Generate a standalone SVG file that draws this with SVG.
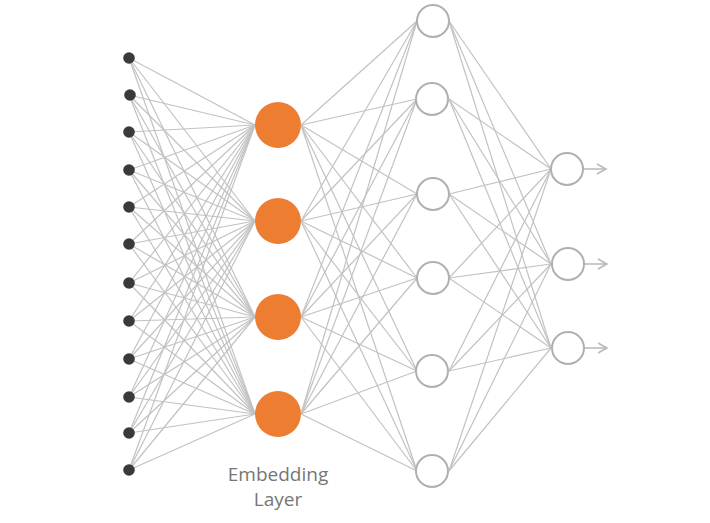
<svg xmlns="http://www.w3.org/2000/svg" width="710" height="523" viewBox="0 0 710 523">
<defs>
<style>
.c line{stroke:#c2c2c2;stroke-width:1.2;fill:none}
.in{fill:#3a3a3a}
.emb{fill:#ED7D31}
.hid{fill:#fff;stroke:#b0b0b0;stroke-width:2}
.arr{stroke:#b8b8b8;stroke-width:1.5;fill:none}
.lbl{font-family:"Open Sans","Liberation Sans",sans-serif;font-size:19px;fill:#767676;text-anchor:middle}
</style>
<marker id="ah" markerWidth="12" markerHeight="12" refX="10" refY="6" orient="auto" markerUnits="userSpaceOnUse">
<path d="M1,1 L10,6 L1,11" fill="none" stroke="#b8b8b8" stroke-width="1.5"/>
</marker>
</defs>
<rect width="710" height="523" fill="#fff"/>
<g id="connectors" class="c">
<line x1="129" y1="58" x2="255" y2="125"/><line x1="129" y1="58" x2="255" y2="221"/><line x1="129" y1="58" x2="255" y2="317"/><line x1="129" y1="58" x2="255" y2="414"/>
<line x1="129" y1="95" x2="255" y2="125"/><line x1="129" y1="95" x2="255" y2="221"/><line x1="129" y1="95" x2="255" y2="317"/><line x1="129" y1="95" x2="255" y2="414"/>
<line x1="129" y1="132" x2="255" y2="125"/><line x1="129" y1="132" x2="255" y2="221"/><line x1="129" y1="132" x2="255" y2="317"/><line x1="129" y1="132" x2="255" y2="414"/>
<line x1="129" y1="170" x2="255" y2="125"/><line x1="129" y1="170" x2="255" y2="221"/><line x1="129" y1="170" x2="255" y2="317"/><line x1="129" y1="170" x2="255" y2="414"/>
<line x1="129" y1="207" x2="255" y2="125"/><line x1="129" y1="207" x2="255" y2="221"/><line x1="129" y1="207" x2="255" y2="317"/><line x1="129" y1="207" x2="255" y2="414"/>
<line x1="129" y1="244" x2="255" y2="125"/><line x1="129" y1="244" x2="255" y2="221"/><line x1="129" y1="244" x2="255" y2="317"/><line x1="129" y1="244" x2="255" y2="414"/>
<line x1="129" y1="283" x2="255" y2="125"/><line x1="129" y1="283" x2="255" y2="221"/><line x1="129" y1="283" x2="255" y2="317"/><line x1="129" y1="283" x2="255" y2="414"/>
<line x1="129" y1="321" x2="255" y2="125"/><line x1="129" y1="321" x2="255" y2="221"/><line x1="129" y1="321" x2="255" y2="317"/><line x1="129" y1="321" x2="255" y2="414"/>
<line x1="129" y1="359" x2="255" y2="125"/><line x1="129" y1="359" x2="255" y2="221"/><line x1="129" y1="359" x2="255" y2="317"/><line x1="129" y1="359" x2="255" y2="414"/>
<line x1="129" y1="397" x2="255" y2="125"/><line x1="129" y1="397" x2="255" y2="221"/><line x1="129" y1="397" x2="255" y2="317"/><line x1="129" y1="397" x2="255" y2="414"/>
<line x1="129" y1="433" x2="255" y2="125"/><line x1="129" y1="433" x2="255" y2="221"/><line x1="129" y1="433" x2="255" y2="317"/><line x1="129" y1="433" x2="255" y2="414"/>
<line x1="129" y1="470" x2="255" y2="125"/><line x1="129" y1="470" x2="255" y2="221"/><line x1="129" y1="470" x2="255" y2="317"/><line x1="129" y1="470" x2="255" y2="414"/>
<line x1="301" y1="125" x2="417" y2="21"/><line x1="301" y1="125" x2="417" y2="99"/><line x1="301" y1="125" x2="417" y2="194"/><line x1="301" y1="125" x2="417" y2="278"/><line x1="301" y1="125" x2="417" y2="371"/><line x1="301" y1="125" x2="417" y2="471"/>
<line x1="301" y1="221" x2="417" y2="21"/><line x1="301" y1="221" x2="417" y2="99"/><line x1="301" y1="221" x2="417" y2="194"/><line x1="301" y1="221" x2="417" y2="278"/><line x1="301" y1="221" x2="417" y2="371"/><line x1="301" y1="221" x2="417" y2="471"/>
<line x1="301" y1="317" x2="417" y2="21"/><line x1="301" y1="317" x2="417" y2="99"/><line x1="301" y1="317" x2="417" y2="194"/><line x1="301" y1="317" x2="417" y2="278"/><line x1="301" y1="317" x2="417" y2="371"/><line x1="301" y1="317" x2="417" y2="471"/>
<line x1="301" y1="414" x2="417" y2="21"/><line x1="301" y1="414" x2="417" y2="99"/><line x1="301" y1="414" x2="417" y2="194"/><line x1="301" y1="414" x2="417" y2="278"/><line x1="301" y1="414" x2="417" y2="371"/><line x1="301" y1="414" x2="417" y2="471"/>
<line x1="449" y1="21" x2="551" y2="169"/><line x1="449" y1="21" x2="551" y2="264"/><line x1="449" y1="21" x2="551" y2="348"/>
<line x1="449" y1="99" x2="551" y2="169"/><line x1="449" y1="99" x2="551" y2="264"/><line x1="449" y1="99" x2="551" y2="348"/>
<line x1="449" y1="194" x2="551" y2="169"/><line x1="449" y1="194" x2="551" y2="264"/><line x1="449" y1="194" x2="551" y2="348"/>
<line x1="449" y1="278" x2="551" y2="169"/><line x1="449" y1="278" x2="551" y2="264"/><line x1="449" y1="278" x2="551" y2="348"/>
<line x1="449" y1="371" x2="551" y2="169"/><line x1="449" y1="371" x2="551" y2="264"/><line x1="449" y1="371" x2="551" y2="348"/>
<line x1="449" y1="471" x2="551" y2="169"/><line x1="449" y1="471" x2="551" y2="264"/><line x1="449" y1="471" x2="551" y2="348"/>
</g>
<g id="outputs-arrows">
<line class="arr" x1="583" y1="169" x2="606" y2="169" marker-end="url(#ah)"/>
<line class="arr" x1="584" y1="264" x2="607" y2="264" marker-end="url(#ah)"/>
<line class="arr" x1="584" y1="348" x2="607" y2="348" marker-end="url(#ah)"/>
</g>
<g id="input-layer">
<circle class="in" cx="129" cy="58" r="5.8"/><circle class="in" cx="130" cy="95" r="5.8"/><circle class="in" cx="129" cy="132" r="5.8"/><circle class="in" cx="129" cy="170" r="5.8"/>
<circle class="in" cx="129" cy="207" r="5.8"/><circle class="in" cx="129" cy="244" r="5.8"/><circle class="in" cx="129" cy="283" r="5.8"/><circle class="in" cx="129" cy="321" r="5.8"/>
<circle class="in" cx="129" cy="359" r="5.8"/><circle class="in" cx="129" cy="397" r="5.8"/><circle class="in" cx="129" cy="433" r="5.8"/><circle class="in" cx="129" cy="470" r="5.8"/>
</g>
<g id="embedding-layer">
<circle class="emb" cx="278" cy="125" r="23"/>
<circle class="emb" cx="278" cy="221" r="23"/>
<circle class="emb" cx="278" cy="317" r="23"/>
<circle class="emb" cx="278" cy="414" r="23"/>
</g>
<g id="hidden-layer">
<circle class="hid" cx="433" cy="21" r="16"/>
<circle class="hid" cx="432" cy="99" r="16"/>
<circle class="hid" cx="433" cy="194" r="16"/>
<circle class="hid" cx="433" cy="278" r="16"/>
<circle class="hid" cx="432" cy="371" r="16"/>
<circle class="hid" cx="432" cy="471" r="16"/>
</g>
<g id="output-layer">
<circle class="hid" cx="567" cy="169" r="16"/>
<circle class="hid" cx="568" cy="264" r="16"/>
<circle class="hid" cx="568" cy="348" r="16"/>
</g>
<g id="label">
<text class="lbl" x="278" y="481">Embedding</text>
<text class="lbl" x="278" y="506">Layer</text>
</g>
</svg>
